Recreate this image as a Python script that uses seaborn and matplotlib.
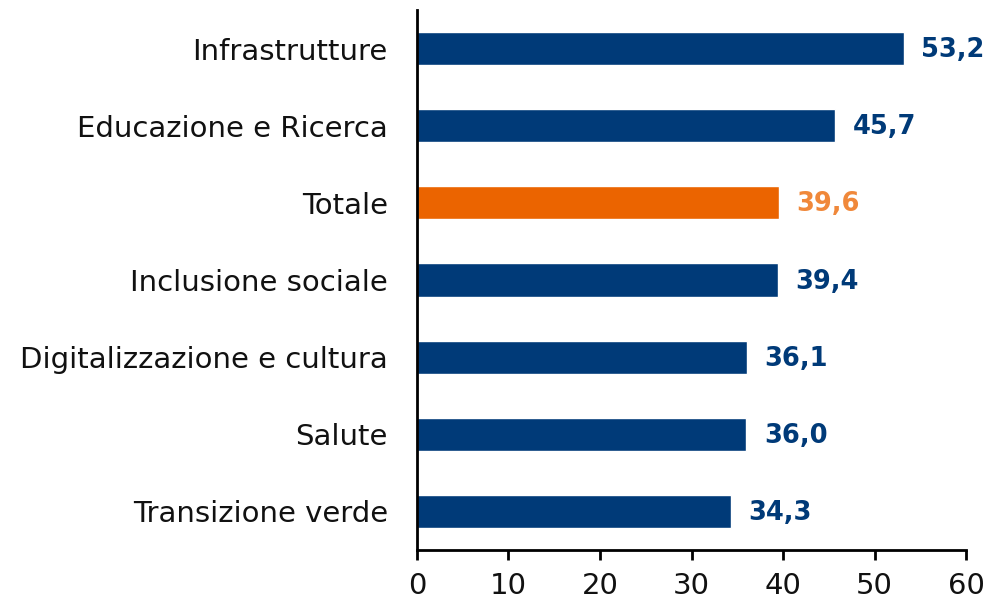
import matplotlib
matplotlib.use("Agg")
import matplotlib.pyplot as plt
import seaborn as sns
import pandas as pd

categories = ["Infrastrutture", "Educazione e Ricerca", "Totale", "Inclusione sociale",
              "Digitalizzazione e cultura", "Salute", "Transizione verde"]
values = [53.2, 45.7, 39.6, 39.4, 36.1, 36.0, 34.3]
value_labels = ["53,2", "45,7", "39,6", "39,4", "36,1", "36,0", "34,3"]
highlight = "Totale"

NAVY = "#003A78"
ORANGE = "#EB6400"
ORANGE_TXT = "#F0883A"

sns.set_theme(style="white")
plt.rcParams['font.family'] = ['DejaVu Sans']

df = pd.DataFrame({"cat": categories, "val": values})
palette = {c: (ORANGE if c == highlight else NAVY) for c in categories}

fig = plt.figure(figsize=(10.04, 6.05), dpi=100)
ax = fig.add_axes([0.4153, 0.0909, 0.5469, 0.8926])
sns.barplot(data=df, x="val", y="cat", hue="cat", palette=palette, order=categories,
            width=0.43, legend=False, ax=ax, saturation=1)

ax.set_xlim(0, 60)
ax.set_ylim(6.5, -0.5)
ax.set_xticks(range(0, 61, 10))
ax.set_xlabel("")
ax.set_ylabel("")
for s in ["top", "right"]:
    ax.spines[s].set_visible(False)
for s in ["left", "bottom"]:
    ax.spines[s].set_color("black")
    ax.spines[s].set_linewidth(2)
ax.tick_params(axis="x", direction="out", length=7, width=2, color="black",
               labelsize=21, pad=9, labelcolor="#111111", bottom=True)
ax.tick_params(axis="y", length=0, labelsize=21, pad=21, labelcolor="#111111")

for i, (v, lab, c) in enumerate(zip(values, value_labels, categories)):
    ax.text(v + 1.9, i + 0.02, lab, va="center", ha="left", fontsize=18.5, fontweight="bold",
            color=(ORANGE_TXT if c == highlight else NAVY))

fig.savefig("out.png", dpi=100)
